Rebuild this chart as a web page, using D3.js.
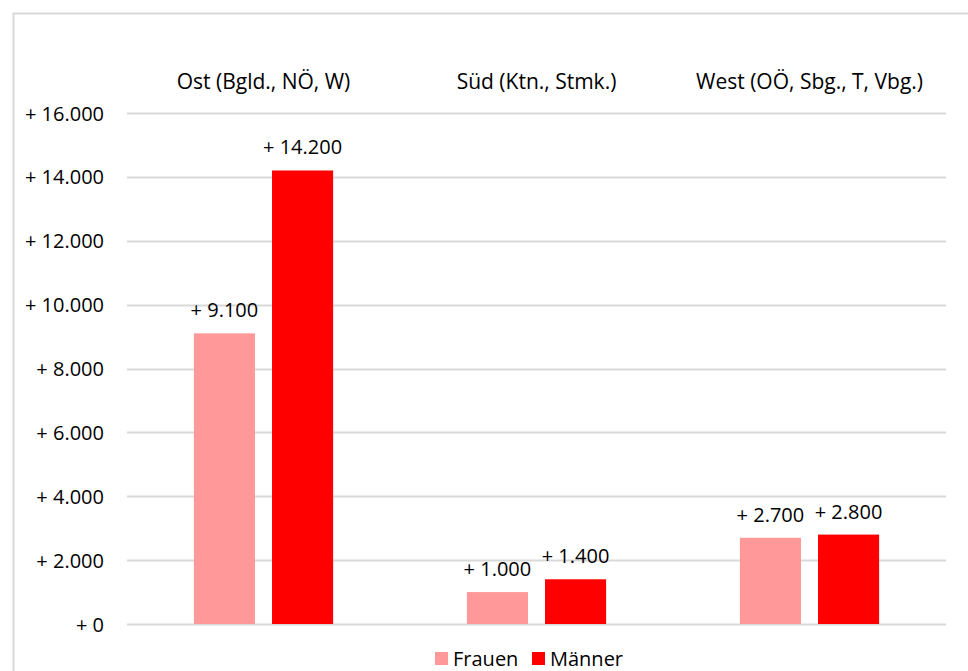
<!DOCTYPE html>
<html>
<head>
<meta charset="utf-8">
<script src="https://cdn.jsdelivr.net/npm/d3@7"></script>
<style>
  html, body { margin: 0; padding: 0; background: #fff; }
  svg { display: block; font-family: "Open Sans", "Noto Sans", sans-serif; }
</style>
</head>
<body>
<svg id="chart" width="968" height="671"></svg>
<script>
// Regional change, women vs. men
const categories = ["Ost (Bgld., NÖ, W)", "Süd (Ktn., Stmk.)", "West (OÖ, Sbg., T, Vbg.)"];
const seriesNames = ["Frauen", "Männer"];
const frauen = [9100, 1000, 2700];
const maenner = [14200, 1400, 2800];
const yTicks = [0, 2000, 4000, 6000, 8000, 10000, 12000, 14000, 16000];
const colors = ["#FF9999", "#FF0000"];

const fmt = v => "+ " + d3.format(",.0f")(v).replace(/,/g, ".");

const svg = d3.select("#chart");
const W = 968, H = 671;
const plot = { left: 127, right: 946, top: 113, bottom: 624 };

// Outer frame (extends beyond the visible canvas on the right and bottom)
svg.append("rect")
  .attr("x", 13.5).attr("y", 13.5)
  .attr("width", W + 20).attr("height", H + 20)
  .attr("fill", "none").attr("stroke", "#d9d9d9").attr("stroke-width", 2);

const y = d3.scaleLinear().domain([0, 16000]).range([plot.bottom, plot.top]);
const x0 = d3.scaleBand().domain(categories).range([plot.left, plot.right]).padding(0);
const bw = x0.bandwidth();
const x1 = d3.scaleBand().domain(seriesNames)
  .range([bw * 0.245, bw * 0.755]).paddingInner(0.218).paddingOuter(0);

// Gridlines
svg.append("g").selectAll("line").data(yTicks).join("line")
  .attr("x1", plot.left).attr("x2", plot.right)
  .attr("y1", d => Math.round(y(d)) + 0.5).attr("y2", d => Math.round(y(d)) + 0.5)
  .attr("stroke", "#d9d9d9").attr("stroke-width", 2);

// Y axis labels
const yAxis = d3.axisLeft(y).tickValues(yTicks).tickFormat(fmt).tickSize(0).tickPadding(0);
const ya = svg.append("g").attr("transform", `translate(104,0)`).call(yAxis);
ya.select(".domain").remove();
ya.selectAll("text").attr("font-size", 20).attr("fill", "#000")
  .attr("font-family", "'Open Sans', sans-serif").attr("dy", "0.35em");

// Category labels at the top
svg.append("g").selectAll("text").data(categories).join("text")
  .attr("x", d => x0(d) + bw / 2).attr("y", 89)
  .attr("text-anchor", "middle").attr("font-size", 21).attr("fill", "#000")
  .text(d => d);

// Bars
const rows = categories.map((c, i) => ({ cat: c, values: [
  { name: seriesNames[0], value: frauen[i] },
  { name: seriesNames[1], value: maenner[i] }
]}));

const groups = svg.append("g").selectAll("g").data(rows).join("g")
  .attr("transform", d => `translate(${x0(d.cat)},0)`);

groups.selectAll("rect").data(d => d.values).join("rect")
  .attr("x", d => x1(d.name)).attr("width", x1.bandwidth())
  .attr("y", d => y(d.value)).attr("height", d => y(0) - y(d.value))
  .attr("fill", (d, i) => colors[i]);

groups.selectAll("text").data(d => d.values).join("text")
  .attr("x", d => x1(d.name) + x1.bandwidth() / 2)
  .attr("y", d => y(d.value) - 16)
  .attr("text-anchor", "middle").attr("font-size", 20).attr("fill", "#000")
  .text(d => fmt(d.value));

// Legend
const legend = svg.append("g");
const legendItems = [{ name: "Frauen", x: 435 }, { name: "Männer", x: 532 }];
legendItems.forEach((it, i) => {
  legend.append("rect").attr("x", it.x).attr("y", 652).attr("width", 13).attr("height", 13)
    .attr("fill", colors[i]);
  legend.append("text").attr("x", it.x + 18).attr("y", 666)
    .attr("font-size", 20).attr("fill", "#000").text(it.name);
});
</script>
</body>
</html>
